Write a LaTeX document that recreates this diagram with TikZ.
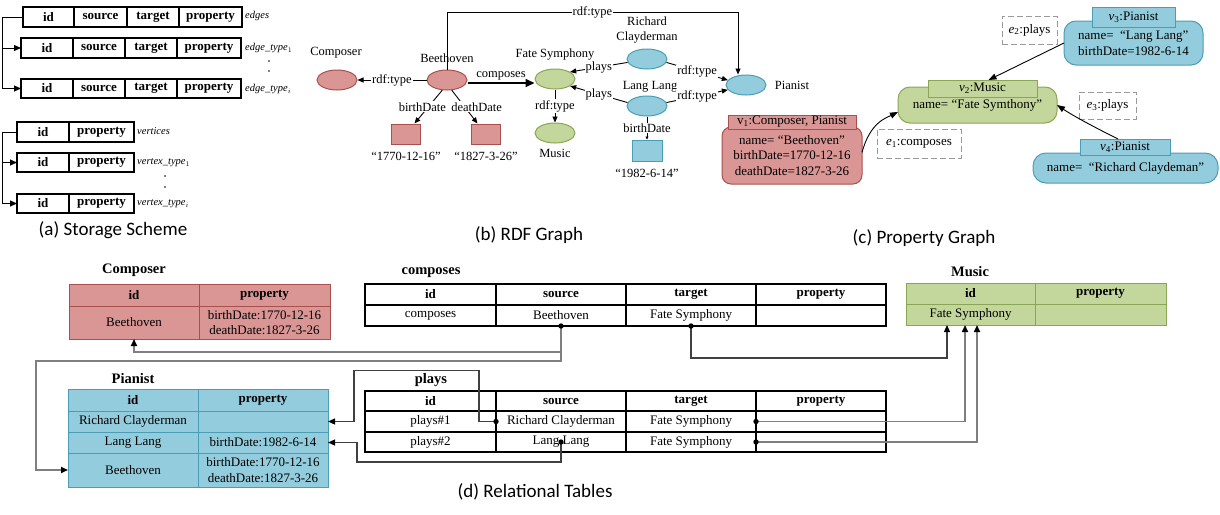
\documentclass[tikz,border=0pt]{standalone}
\usepackage{fontspec}
\setmainfont{Liberation Serif}
\newfontfamily\capfont{Carlito}
\usetikzlibrary{arrows.meta,shapes.geometric}
\definecolor{redF}{HTML}{D99694}
\definecolor{redD}{HTML}{A9504C}
\definecolor{bluF}{HTML}{93CDDD}
\definecolor{bluD}{HTML}{4A9DB5}
\definecolor{grnF}{HTML}{C3D69B}
\definecolor{grnD}{HTML}{8AA654}
\definecolor{lineG}{HTML}{7F7F7F}
\definecolor{lineD}{HTML}{404040}
\definecolor{dashG}{HTML}{9A9A9A}
\newcommand\tc[7]{\node[tcellst,#1,anchor=north west,minimum width={(#4)-(#2)},minimum height={(#5)-(#3)}] (#6) at (#2,#3) {#7};}
\tikzset{
  tcellst/.style={draw, rectangle, inner sep=0pt, outer sep=0pt, align=center, font=\fontsize{13}{15.5}\selectfont},
  hdr/.style={font=\fontsize{13}{15.5}\selectfont\bfseries},
  wt/.style={fill=white, draw=black, line width=1.1pt},
  rt/.style={fill=redF, draw=redD, line width=1pt},
  bt/.style={fill=bluF, draw=bluD, line width=1pt},
  gt/.style={fill=grnF, draw=grnD, line width=1pt},
  dsh/.style={draw=dashG, dash pattern=on 6pt off 3pt, line width=1pt, fill=white},
  small/.style={font=\fontsize{10.5}{12}\selectfont\itshape, inner sep=1pt},
  txt/.style={font=\fontsize{12.5}{15}\selectfont, inner sep=1pt, align=center},
  lbl/.style={fill=white, inner sep=1pt, font=\fontsize{12.5}{14}\selectfont},
  ttl/.style={font=\fontsize{14.5}{16}\selectfont\bfseries, inner sep=1pt},
  captxt/.style={font=\capfont\fontsize{19}{22}\selectfont, inner sep=1pt},
  ell/.style={ellipse, minimum width=40pt, minimum height=20pt, inner sep=0pt, line width=1pt},
  sarr/.style={-{Triangle[length=7pt,width=6pt]}, line width=1pt},
  ra/.style={-{Triangle[length=6pt,width=5pt]}, line width=0.9pt},
  pgarr/.style={-{Triangle[length=8pt,width=6pt]}, line width=0.9pt},
  garr/.style={-{Triangle[length=7pt,width=6pt,color=black]}, draw=lineG, line width=1.6pt},
  darr/.style={-{Triangle[length=7pt,width=6pt,color=black]}, draw=lineD, line width=1.1pt},
}
\begin{document}
\begin{tikzpicture}[x=1pt,y=-1pt]
\useasboundingbox (0,0) rectangle (1220,514);
% ---------------- (a) storage scheme
\tc{hdr,wt}{23}{7}{74}{27}{e1a}{id}
\tc{hdr,wt}{74}{7}{127}{27}{e1b}{source}
\tc{hdr,wt}{127}{7}{179}{27}{e1c}{target}
\tc{hdr,wt}{179}{7}{242}{27}{e1d}{property}
\tc{hdr,wt}{21}{38}{73}{58}{e2a}{id}
\tc{hdr,wt}{73}{38}{125}{58}{e2b}{source}
\tc{hdr,wt}{125}{38}{177}{58}{e2c}{target}
\tc{hdr,wt}{177}{38}{241}{58}{e2d}{property}
\tc{hdr,wt}{21}{79}{73}{98}{e3a}{id}
\tc{hdr,wt}{73}{79}{125}{98}{e3b}{source}
\tc{hdr,wt}{125}{79}{177}{98}{e3c}{target}
\tc{hdr,wt}{177}{79}{241}{98}{e3d}{property}
\node[small,anchor=west] (le1) at (244,16) {edges};
\node[small,anchor=west] (le2) at (244,48) {edge\_type$_1$};
\node[small,anchor=west] (le3) at (244,89) {edge\_type$_i$};
\fill (269,61) circle (0.9pt);
\fill (269,71) circle (0.9pt);
\draw[sarr] (e1a.west) -- ++(-21,0) |- (e2a.west);
\draw[sarr] (e1a.west) -- ++(-21,0) |- (e3a.west);
\tc{hdr,wt}{17}{122}{69}{142}{sv1a}{id}
\tc{hdr,wt}{69}{122}{134}{142}{sv1b}{property}
\tc{hdr,wt}{17}{153}{69}{172}{sv2a}{id}
\tc{hdr,wt}{69}{153}{134}{172}{sv2b}{property}
\tc{hdr,wt}{17}{194}{69}{213}{sv3a}{id}
\tc{hdr,wt}{69}{194}{134}{213}{sv3b}{property}
\node[small,anchor=west] (lv1) at (136,131) {vertices};
\node[small,anchor=west] (lv2) at (136,163) {vertex\_type$_1$};
\node[small,anchor=west] (lv3) at (136,204) {vertex\_type$_i$};
\fill (165,176) circle (0.9pt);
\fill (165,187) circle (0.9pt);
\draw[sarr] (sv1a.west) -- ++(-15,0) |- (sv2a.west);
\draw[sarr] (sv1a.west) -- ++(-15,0) |- (sv3a.west);
\node[captxt] (capA) at (113,230) {(a) Storage Scheme};
% ---------------- (b) RDF graph
\node[ell, fill=redF, draw=redD] (comp) at (337,80) {};
\node[ell, fill=redF, draw=redD] (beet) at (447,80) {};
\node[ell, fill=grnF, draw=grnD] (fate) at (555,79) {};
\node[ell, fill=grnF, draw=grnD] (music) at (555,133) {};
\node[ell, fill=bluF, draw=bluD] (rc) at (647,59) {};
\node[ell, fill=bluF, draw=bluD] (ll) at (647,106) {};
\node[ell, fill=bluF, draw=bluD] (pian) at (746,85) {};
\node[rectangle, fill=redF, draw=redD, line width=1pt, minimum width=29pt, minimum height=20pt] (bd1) at (405.5,134) {};
\node[rectangle, fill=redF, draw=redD, line width=1pt, minimum width=29pt, minimum height=20pt] (bd2) at (485.5,134) {};
\node[rectangle, fill=bluF, draw=bluD, line width=1pt, minimum width=30pt, minimum height=21pt] (lbd) at (647,150.5) {};
\node[txt] (compL) at (336,53) {Composer};
\node[txt] (beetL) at (447,58) {Beethoven};
\node[txt] (fateL) at (555,55) {Fate Symphony};
\node[txt] (musicL) at (555,153) {Music};
\node[txt] (rcL) at (647,30) {Richard\\Clayderman};
\node[txt] (llL) at (650,87) {Lang Lang};
\node[txt] (pianL) at (792,85) {Pianist};
\node[txt] (bd1L) at (406,156) {“1770-12-16”};
\node[txt] (bd2L) at (486,156) {“1827-3-26”};
\node[txt] (lbdL) at (647,173) {“1982-6-14”};
\coordinate (tl) at (447,12);
\coordinate (tr) at (738,12);
\draw[ra] (beet.north) -- (tl) -- node[lbl]{rdf:type} (tr) -- (pian.north -| tr);
\draw[ra] (beet) -- node[lbl]{rdf:type} (comp);
\draw[-{Triangle[length=9pt,width=8pt]}, line width=1.6pt] ([yshift=-3pt]beet.east) -- node[above, inner sep=2pt, font=\fontsize{12.5}{14}\selectfont]{composes} ([yshift=-4pt]fate.west);
\draw[ra] (beet.245) -- node[lbl, xshift=-6pt]{birthDate} ([xshift=9pt]bd1.north);
\draw[ra] (beet.295) -- node[lbl, xshift=12pt]{deathDate} ([xshift=-8pt]bd2.north);
\draw[ra] (fate) -- node[lbl]{rdf:type} (music);
\draw[ra] (rc.190) -- node[lbl]{plays} (fate.25);
\draw[ra] (ll.170) -- node[lbl]{plays} (fate.335);
\draw[ra] (rc.350) -- node[lbl]{rdf:type} (pian.165);
\draw[ra] (ll.10) -- node[lbl]{rdf:type} (pian.195);
\draw[-{Triangle[length=3pt,width=3pt]}, line width=0.9pt] (ll) -- node[lbl]{birthDate} (lbd);
\node[captxt] (capB) at (529,235) {(b) RDF Graph};
% ---------------- (c) property graph
\tc{rt,rounded corners=9pt}{722}{127}{862}{184}{v1b}{name= “Beethoven”\\birthDate=1770-12-16\\deathDate=1827-3-26}
\tc{rt}{728}{115}{856}{129}{v1h}{v\textsubscript{1}:Composer, Pianist}
\tc{gt,rounded corners=12pt}{898}{87}{1057}{123}{v2b}{\raisebox{-4pt}{name= “Fate Symthony”}}
\tc{gt}{928}{80}{1037}{97}{v2h}{\textit{v}\textsubscript{2}:Music}
\tc{bt,rounded corners=12pt,align=left}{1064}{21}{1203}{65}{v3b}{name=\ \ “Lang Lang”\\birthDate=1982-6-14}
\tc{bt}{1092}{7}{1175}{27}{v3h}{\textit{v}\textsubscript{3}:Pianist}
\tc{bt,rounded corners=13pt}{1033}{153}{1218}{183}{v4b}{\raisebox{-3pt}{name=\ \ “Richard Claydeman”}}
\tc{bt}{1080}{139}{1170}{155}{v4h}{\textit{v}\textsubscript{4}:Pianist}
\tc{dsh}{877}{129}{961}{158}{e1l}{\textit{e}\textsubscript{1}:composes}
\tc{dsh}{1002}{16}{1057}{44}{e2l}{\textit{e}\textsubscript{2}:plays}
\tc{dsh}{1079}{92}{1136}{119}{e3l}{\textit{e}\textsubscript{3}:plays}
\draw[pgarr] ([yshift=3pt]v1b.east) .. controls +(8,-30) and +(-12,6) .. (v2b.185);
\draw[pgarr] (v3b.west) -- ([xshift=6pt]v2h.north);
\draw[pgarr] ([xshift=-7pt]v4h.north) .. controls +(-20,-10) and +(18,12) .. (v2b.east);
\node[captxt] (capC) at (924,238) {(c) Property Graph};
% ---------------- (d) relational tables
\node[ttl] (compT) at (134,270) {Composer};
\tc{hdr,rt}{69}{284}{199}{306}{cpH1}{id}
\tc{hdr,rt}{199}{284}{330}{306}{cpH2}{property}
\tc{rt}{69}{306}{199}{339}{cpB}{Beethoven}
\tc{rt}{199}{306}{330}{339}{cpP}{birthDate:1770-12-16\\deathDate:1827-3-26}
\node[ttl] (cmpT) at (431,273) {composes};
\tc{hdr,wt}{365}{284}{496}{305}{cH1}{id}
\tc{hdr,wt}{496}{284}{626}{305}{cH2}{source}
\tc{hdr,wt}{626}{284}{756}{305}{cH3}{target}
\tc{hdr,wt}{756}{284}{886}{305}{cH4}{property}
\tc{wt}{365}{305}{496}{326}{cRi}{composes}
\tc{wt}{496}{305}{626}{326}{cRs}{Beethoven}
\tc{wt}{626}{305}{756}{326}{cRt}{Fate Symphony}
\tc{wt}{756}{305}{886}{326}{cRp}{}
\node[ttl] (musT) at (970,272) {Music};
\tc{hdr,gt}{906}{283}{1035}{304}{mH1}{id}
\tc{hdr,gt}{1035}{283}{1166}{304}{mH2}{property}
\tc{gt}{906}{304}{1035}{325}{mB}{Fate Symphony}
\tc{gt}{1035}{304}{1166}{325}{mP}{}
\node[ttl] (piT) at (133,379) {Pianist};
\tc{hdr,bt}{68}{389}{198}{411}{piH1}{id}
\tc{hdr,bt}{198}{389}{328}{411}{piH2}{property}
\tc{bt}{68}{411}{198}{432}{piRC}{Richard Clayderman}
\tc{bt}{198}{411}{328}{432}{piRCp}{}
\tc{bt}{68}{432}{198}{453}{piLL}{Lang Lang}
\tc{bt}{198}{432}{328}{453}{piLLp}{birthDate:1982-6-14}
\tc{bt}{68}{453}{198}{487}{piB}{Beethoven}
\tc{bt}{198}{453}{328}{487}{piBp}{birthDate:1770-12-16\\deathDate:1827-3-26}
\node[ttl] (plT) at (431,380) {plays};
\tc{hdr,wt}{365}{391}{496}{411}{pH1}{id}
\tc{hdr,wt}{496}{391}{626}{411}{pH2}{source}
\tc{hdr,wt}{626}{391}{756}{411}{pH3}{target}
\tc{hdr,wt}{756}{391}{886}{411}{pH4}{property}
\tc{wt}{365}{411}{496}{432}{pR1i}{plays\#1}
\tc{wt}{496}{411}{626}{432}{pR1s}{Richard Clayderman}
\tc{wt}{626}{411}{756}{432}{pR1t}{Fate Symphony}
\tc{wt}{756}{411}{886}{432}{pR1p}{}
\tc{wt}{365}{432}{496}{452}{pR2i}{plays\#2}
\tc{wt}{496}{432}{626}{452}{pR2s}{Lang Lang}
\tc{wt}{626}{432}{756}{452}{pR2t}{Fate Symphony}
\tc{wt}{756}{432}{886}{452}{pR2p}{}
\draw[garr] (cRs.south) -- ++(0,26) -| (cpB.south);
\draw[garr] (cRs.south) -- ++(0,35) -- ++(-525,0) |- (piB.west);
\draw[darr] (cRt.south) -- ++(0,32) -| ([xshift=-23.5pt]mB.south);
\draw[darr] (pR1s.west) -- ++(-17,0) -- ++(0,-51) -- ++(-125,0) |- (piRCp.east);
\draw[darr] (pR2s.center) -- ++(0,20) -- ++(-204,0) |- (piLLp.east);
\draw[garr] (pR1t.east) -| ([xshift=-5.5pt]mB.south);
\draw[garr] (pR2t.east) -| ([xshift=6.5pt]mB.south);
\fill (cRs.south) circle (2.7pt);
\fill (cRt.south) circle (2.7pt);
\fill (pR1s.west) circle (2.7pt);
\fill (pR2s.center) circle (2.7pt);
\fill (pR1t.east) circle (2.7pt);
\fill (pR2t.east) circle (2.7pt);
\node[captxt] (capD) at (535,492) {(d) Relational Tables};
\end{tikzpicture}
\end{document}
